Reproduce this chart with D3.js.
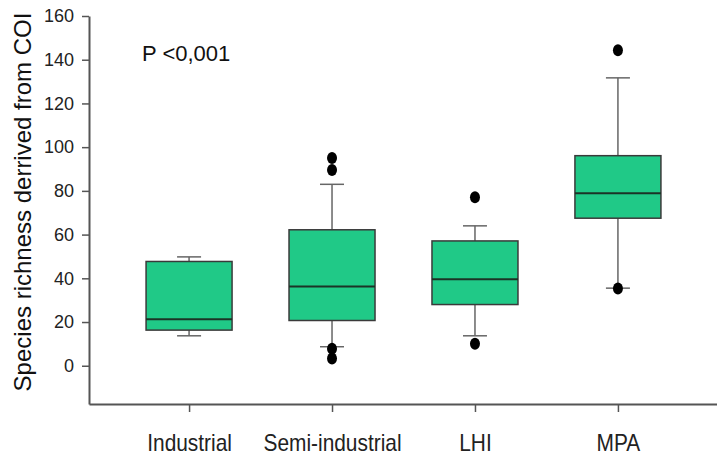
<!DOCTYPE html>
<html lang="en">
<head>
    <meta charset="UTF-8">
    <title>Species richness derived from COI</title>
    <script src="https://d3js.org/d3.v7.min.js"></script>
    <style>
        body { margin: 0; background: #fff; font-family: Arial, "Liberation Sans", sans-serif; }
        .axis text { fill: #222; }
    </style>
</head>
<body>
    <script>
        // Data
        const categories = ["Industrial", "Semi-industrial", "LHI", "MPA"];
        const q1 = [16.3, 20.7, 28.0, 67.5];
        const medians = [21.3, 36.3, 39.6, 78.9];
        const q3 = [47.7, 62.2, 57.1, 96.1];
        const whiskerLow = [13.7, 8.7, 13.7, 35.5];
        const whiskerHigh = [49.8, 83.0, 64.0, 131.7];
        const outliers = [[], [95.0, 89.5, 7.8, 3.3], [77.1, 10.1], [144.3, 35.3]];
        const yTicks = [0, 20, 40, 60, 80, 100, 120, 140, 160];

        const width = 717, height = 459;
        const plotLeft = 89, plotRight = 718, plotTop = 16, plotBottom = 404;

        const svg = d3.select("body").append("svg")
            .attr("width", width)
            .attr("height", height);

        const x = d3.scalePoint()
            .domain(categories)
            .range([plotLeft, plotRight])
            .padding(0.7);

        const y = d3.scaleLinear()
            .domain([-17.5, 160])
            .range([plotBottom, plotTop]);

        const boxWidth = 86, capWidth = 24;

        const boxes = categories.map((c, i) => ({
            cat: c, q1: q1[i], med: medians[i], q3: q3[i],
            lo: whiskerLow[i], hi: whiskerHigh[i], out: outliers[i]
        }));

        const g = svg.selectAll(".box")
            .data(boxes)
            .enter().append("g")
            .attr("class", "box")
            .attr("transform", d => `translate(${x(d.cat)},0)`);

        // whiskers
        g.append("line")
            .attr("y1", d => y(d.hi)).attr("y2", d => y(d.q3))
            .attr("stroke", "#666").attr("stroke-width", 1.5);
        g.append("line")
            .attr("y1", d => y(d.q1)).attr("y2", d => y(d.lo))
            .attr("stroke", "#666").attr("stroke-width", 1.5);
        g.append("line")
            .attr("x1", -capWidth / 2).attr("x2", capWidth / 2)
            .attr("y1", d => y(d.hi)).attr("y2", d => y(d.hi))
            .attr("stroke", "#666").attr("stroke-width", 1.5);
        g.append("line")
            .attr("x1", -capWidth / 2).attr("x2", capWidth / 2)
            .attr("y1", d => y(d.lo)).attr("y2", d => y(d.lo))
            .attr("stroke", "#666").attr("stroke-width", 1.5);

        // box
        g.append("rect")
            .attr("x", -boxWidth / 2)
            .attr("width", boxWidth)
            .attr("y", d => y(d.q3))
            .attr("height", d => y(d.q1) - y(d.q3))
            .attr("fill", "#20c987")
            .attr("stroke", "#3a3a3a")
            .attr("stroke-width", 1.5);

        // median
        g.append("line")
            .attr("x1", -boxWidth / 2).attr("x2", boxWidth / 2)
            .attr("y1", d => y(d.med)).attr("y2", d => y(d.med))
            .attr("stroke", "#1b3326").attr("stroke-width", 2);

        // outliers
        g.selectAll("ellipse")
            .data(d => d.out)
            .enter().append("ellipse")
            .attr("cx", 0)
            .attr("cy", v => y(v))
            .attr("rx", 5)
            .attr("ry", 6)
            .attr("fill", "#000");

        // Y axis
        const yAxis = svg.append("g")
            .attr("class", "axis")
            .attr("transform", `translate(${plotLeft},0)`)
            .call(d3.axisLeft(y).tickValues(yTicks).tickSize(7).tickSizeOuter(0).tickPadding(8));
        yAxis.select(".domain").attr("stroke", "#555").attr("stroke-width", 2);
        yAxis.selectAll(".tick line").attr("stroke", "#555").attr("stroke-width", 1.5);
        yAxis.selectAll(".tick text").style("font-size", "18px");

        // X axis
        const xAxis = svg.append("g")
            .attr("class", "axis")
            .attr("transform", `translate(0,${plotBottom})`)
            .call(d3.axisBottom(x).tickSize(8).tickSizeOuter(0).tickPadding(22));
        xAxis.select(".domain").attr("stroke", "#555").attr("stroke-width", 2);
        xAxis.selectAll(".tick line").attr("stroke", "#555").attr("stroke-width", 1.5);
        // labels are a little condensed in the original
        xAxis.selectAll(".tick text")
            .style("font-size", "24px")
            .attr("transform", "scale(0.87,1)");

        // Y axis label
        svg.append("text")
            .attr("transform", "translate(31,202) rotate(-90)")
            .attr("text-anchor", "middle")
            .style("font-size", "24px")
            .attr("fill", "#111")
            .text("Species richness derrived from COI");

        // P value
        svg.append("text")
            .attr("x", 142)
            .attr("y", 61)
            .style("font-size", "22px")
            .attr("fill", "#111")
            .text("P <0,001");
    </script>
</body>
</html>
